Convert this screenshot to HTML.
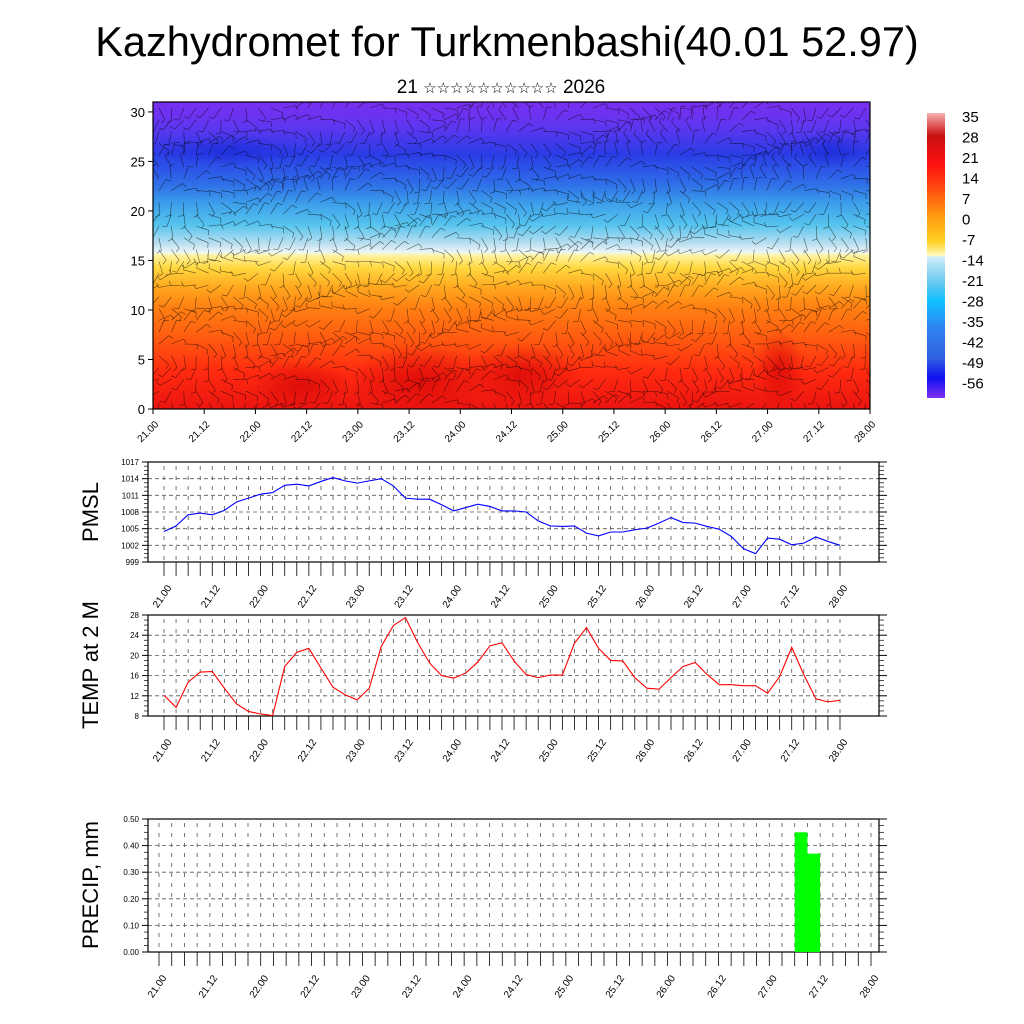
<!DOCTYPE html>
<html><head><meta charset="utf-8"><style>
body{margin:0;background:#fff;}
svg{display:block;font-family:"Liberation Sans",sans-serif;}
</style></head><body>
<svg id="c" width="1024" height="1024" viewBox="0 0 1024 1024">
<defs>
<linearGradient id="tg" x1="0" y1="0" x2="0" y2="1">
<stop offset="0" stop-color="#7a2ef0"/><stop offset="0.08" stop-color="#5f36f0"/>
<stop offset="0.17" stop-color="#2a3ce6"/><stop offset="0.27" stop-color="#2f70e8"/>
<stop offset="0.33" stop-color="#3c9eea"/><stop offset="0.40" stop-color="#55c4ee"/>
<stop offset="0.46" stop-color="#b8def0"/><stop offset="0.49" stop-color="#eef6f6"/>
<stop offset="0.50" stop-color="#fff3a0"/><stop offset="0.54" stop-color="#ffd840"/>
<stop offset="0.60" stop-color="#ffab20"/><stop offset="0.67" stop-color="#ff8012"/>
<stop offset="0.77" stop-color="#ff5a10"/><stop offset="0.88" stop-color="#ff2a10"/>
<stop offset="1" stop-color="#ec1410"/></linearGradient>
<linearGradient id="cb" x1="0" y1="0" x2="0" y2="1">
<stop offset="0" stop-color="#f8b0b0"/><stop offset="0.08" stop-color="#c81010"/>
<stop offset="0.18" stop-color="#ff1010"/><stop offset="0.27" stop-color="#ff5010"/>
<stop offset="0.36" stop-color="#ff9a10"/><stop offset="0.45" stop-color="#ffd020"/>
<stop offset="0.5" stop-color="#fffcc0"/><stop offset="0.505" stop-color="#d0ecf8"/>
<stop offset="0.6" stop-color="#60c8f0"/><stop offset="0.66" stop-color="#10c0ff"/>
<stop offset="0.76" stop-color="#3080f0"/><stop offset="0.86" stop-color="#3060e0"/>
<stop offset="0.93" stop-color="#1010f0"/><stop offset="1" stop-color="#8030f0"/></linearGradient>
<radialGradient id="hot"><stop offset="0" stop-color="#d80808" stop-opacity="0.8"/><stop offset="1" stop-color="#d80808" stop-opacity="0"/></radialGradient>
<radialGradient id="cold"><stop offset="0" stop-color="#1a2ad8" stop-opacity="0.7"/><stop offset="1" stop-color="#1a2ad8" stop-opacity="0"/></radialGradient>
<clipPath id="tclip"><rect x="153" y="102" width="717" height="307"/></clipPath>
</defs>
<text x="507" y="56" font-size="41.5" text-anchor="middle">Kazhydromet for Turkmenbashi(40.01 52.97)</text>
<text x="501" y="93" font-size="19" text-anchor="middle">21 <tspan font-size="15">☆☆☆☆☆☆☆☆☆☆</tspan> 2026</text>
<g id="top"></g>
<g id="cbar"></g>
<g id="pmsl"></g>
<g id="temp"></g>
<g id="prec"></g>
</svg>
<script>
const pmslValues=[1004.5,1005.5,1007.5,1007.8,1007.5,1008.3,1009.8,1010.5,1011.2,1011.5,1012.8,1013.0,1012.7,1013.5,1014.2,1013.6,1013.2,1013.6,1014.0,1012.7,1010.5,1010.3,1010.3,1009.3,1008.2,1008.8,1009.4,1009.0,1008.2,1008.2,1008.0,1006.4,1005.5,1005.4,1005.5,1004.2,1003.7,1004.4,1004.4,1004.8,1005.1,1006.0,1007.0,1006.1,1006.0,1005.4,1004.9,1003.6,1001.4,1000.5,1003.3,1003.1,1002.1,1002.4,1003.5,1002.7,1002.0];
const tempValues=[12.1,9.7,14.7,16.7,16.8,13.5,10.4,8.9,8.4,8.1,17.8,20.6,21.4,17.5,13.7,12.2,11.2,13.5,21.8,25.9,27.5,22.6,18.5,16.0,15.5,16.5,18.7,21.9,22.5,18.9,16.2,15.6,16.1,16.1,22.4,25.5,21.4,19.0,18.9,15.6,13.5,13.3,15.6,17.8,18.6,16.2,14.2,14.2,14.0,14.0,12.5,15.8,21.6,16.2,11.4,10.8,11.1];
const precipIndex=[51,52];
const precipValues=[0.45,0.37];
const xTickLabels=["21.00","21.12","22.00","22.12","23.00","23.12","24.00","24.12","25.00","25.12","26.00","26.12","27.00","27.12","28.00"];
const pmslTicks=[999,1002,1005,1008,1011,1014,1017];
const tempTicks=[8,12,16,20,24,28];
const precipTicks=[0,0.1,0.2,0.3,0.4,0.5];
const heightTicks=[0,5,10,15,20,25,30];
const cbarLabels=["35","28","21","14","7","0","-7","-14","-21","-28","-35","-42","-49","-56"];
const NS="http://www.w3.org/2000/svg";
function mk(p,t,a){const e=document.createElementNS(NS,t);for(const k in a)e.setAttribute(k,a[k]);p.appendChild(e);return e;}

(function(){
const g=document.getElementById('top');
const L=153,R=870,T=102,B=409;
mk(g,'rect',{x:L,y:T,width:R-L,height:B-T,fill:'url(#tg)'});
const cg=mk(g,'g',{'clip-path':'url(#tclip)'});
[[420,380,70,35],[520,375,60,30],[780,370,25,40],[300,385,50,25],[230,150,70,15],[830,150,40,18]].forEach((b,i)=>{
 const e=mk(cg,'ellipse',{cx:b[0],cy:b[1],rx:b[2],ry:b[3],fill:i<4?'url(#hot)':'url(#cold)'});
 
 
});
let d='';
for(let i=0;i<58;i++)for(let j=0;j<26;j++){
 const x=L+6+i*12.4,y=T+6+j*11.8;
 const a=Math.sin(i*0.37+j*0.9)*1.3+Math.cos(i*0.11-j*0.5)*1.1+(j<8?0:1.2);
 const len=13;
 const x2=x+Math.cos(a)*len,y2=y+Math.sin(a)*len;
 d+=`M${x.toFixed(1)} ${y.toFixed(1)}L${x2.toFixed(1)} ${y2.toFixed(1)}`;
 const bx=x2+Math.cos(a+1.3)*5,by=y2+Math.sin(a+1.3)*5;
 d+=`M${x2.toFixed(1)} ${y2.toFixed(1)}L${bx.toFixed(1)} ${by.toFixed(1)}`;
}
const wp=mk(cg,'path',{d:d,stroke:'#000','stroke-width':0.6,'stroke-opacity':0.6,fill:'none'});


mk(g,'rect',{x:L,y:T,width:R-L,height:B-T,fill:'none',stroke:'#000','stroke-width':1.2});
heightTicks.forEach(v=>{
 const y=B-(v/31)*(B-T);
 mk(g,'line',{x1:L-5,x2:L,y1:y,y2:y,stroke:'#000'});
 const t=mk(g,'text',{x:L-8,y:y+5,'font-size':13,'text-anchor':'end'});t.textContent=v;
 
 
});
xTickLabels.forEach((s,i)=>{
 const x=L+i*(R-L)/14;
 mk(g,'line',{x1:x,x2:x,y1:B,y2:B+5,stroke:'#000'});
 const t=mk(g,'text',{x:x+6,y:B+16,'font-size':10,'text-anchor':'end',transform:`rotate(-45 ${x+6} ${B+16})`});t.textContent=s;
 
 
});
})();

(function(){
const g=document.getElementById('cbar');
mk(g,'rect',{x:927,y:113,width:18,height:285,fill:'url(#cb)'});
cbarLabels.forEach((s,i)=>{
 const t=mk(g,'text',{x:962,y:122+i*20.5,'font-size':15});t.textContent=s;
 
 
});
})();

function panel(id,cfg){
const g=document.getElementById(id);
const {L,R,T,B,x0,x1,n,ymin,ymax,ticks,fmt,title,tcy}=cfg;
const sx=i=>x0+i*(x1-x0)/(n-1);
const sy=v=>B-(v-ymin)/(ymax-ymin)*(B-T);
for(let i=0;i<n;i++){const x=sx(i);mk(g,'line',{x1:x,x2:x,y1:T+4,y2:B,stroke:'#555','stroke-width':0.8,'stroke-dasharray':'4 6'});}
ticks.forEach((v,k)=>{const y=sy(v);
 if(k>0&&k<ticks.length-1)mk(g,'line',{x1:L,x2:R,y1:y,y2:y,stroke:'#555','stroke-width':0.8,'stroke-dasharray':'4 3'});
 mk(g,'line',{x1:L-6,x2:L,y1:y,y2:y,stroke:'#000'});mk(g,'line',{x1:R,x2:R+8,y1:y,y2:y,stroke:'#000'});
 const t=mk(g,'text',{x:L-9,y:y+3,'font-size':8,'text-anchor':'end'});t.textContent=fmt(v);
 
 
 if(k<ticks.length-1)for(let m=1;m<4;m++){const yy=y-(m/4)*(sy(ticks[0])-sy(ticks[1]));
  mk(g,'line',{x1:L-4,x2:L,y1:yy,y2:yy,stroke:'#000','stroke-width':0.7});mk(g,'line',{x1:R,x2:R+5,y1:yy,y2:yy,stroke:'#000','stroke-width':0.7});}
});
for(let i=0;i<n;i++){const x=sx(i);mk(g,'line',{x1:x,x2:x,y1:B,y2:B+14,stroke:'#000','stroke-width':0.8});}
xTickLabels.forEach((s,k)=>{const x=sx(k*4)+8;const y=B+26;
 const t=mk(g,'text',{x:x,y:y,'font-size':10,'text-anchor':'end',transform:`rotate(-55 ${x} ${y})`});t.textContent=s;
 
 
});
mk(g,'rect',{x:L,y:T,width:R-L,height:B-T,fill:'none',stroke:'#000','stroke-width':1.2});
const tt=mk(g,'text',{x:98,y:tcy,'font-size':22,'text-anchor':'middle',transform:`rotate(-90 98 ${tcy})`});tt.textContent=title;


return {g,sx,sy};
}
(function(){
const p=panel('pmsl',{L:148,R:879,T:462,B:562,x0:164,x1:840,n:57,ymin:999,ymax:1017,ticks:pmslTicks,fmt:v=>v,title:'PMSL',tcy:512});
const l=mk(p.g,'polyline',{points:pmslValues.map((v,i)=>p.sx(i)+','+p.sy(v)).join(' '),fill:'none',stroke:'#0000ff','stroke-width':1.1});


})();
(function(){
const p=panel('temp',{L:148,R:879,T:615,B:716,x0:164,x1:840,n:57,ymin:8,ymax:28,ticks:tempTicks,fmt:v=>v,title:'TEMP at 2 M',tcy:665});
const l=mk(p.g,'polyline',{points:tempValues.map((v,i)=>p.sx(i)+','+p.sy(v)).join(' '),fill:'none',stroke:'#ff0000','stroke-width':1.1});


})();
(function(){
const p=panel('prec',{L:148,R:879,T:819,B:952,x0:159,x1:871,n:57,ymin:0,ymax:0.5,ticks:precipTicks,fmt:v=>v.toFixed(2),title:'PRECIP, mm',tcy:885});
const w=(871-159)/56;
precipValues.forEach((v,k)=>{
 const x=p.sx(precipIndex[k]);
 const r=mk(p.g,'rect',{x:x-w,y:p.sy(v),width:w,height:p.sy(0)-p.sy(v),fill:'#00ff00'});
 
 
});
})();
</script>
</body></html>
